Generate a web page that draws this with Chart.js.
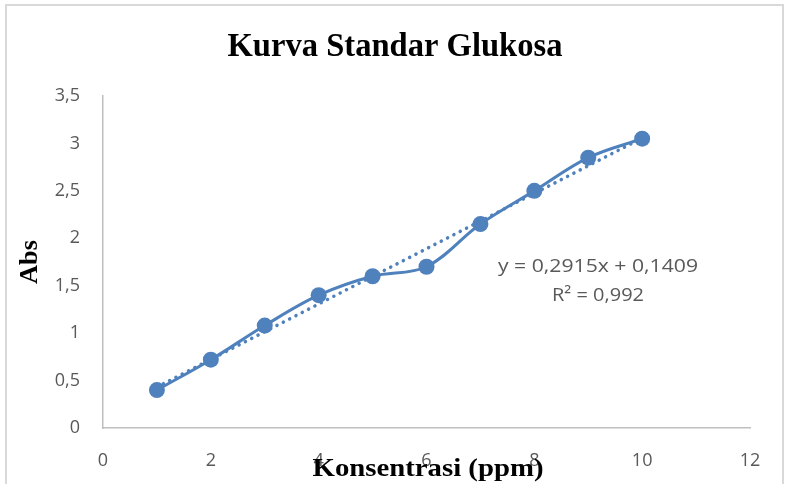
<!DOCTYPE html>
<html>
<head>
<meta charset="utf-8">
<script src="https://cdn.jsdelivr.net/npm/chart.js@4.4.0/dist/chart.umd.min.js"></script>
<style>
  html, body { margin: 0; padding: 0; background: #fff; }
  #wrap { width: 785px; height: 484px; }
</style>
</head>
<body>
<div id="wrap"><canvas id="kurva" width="785" height="484"></canvas></div>
<script>
// Konsentrasi glukosa (ppm) dan absorbansi
const konsentrasi = [1, 2, 3, 4, 5, 6, 7, 8, 9, 10];
const absorbansi = [0.40, 0.72, 1.08, 1.40, 1.60, 1.70, 2.15, 2.50, 2.85, 3.05];

// Regresi linear seperti pada label persamaan
const slope = 0.2915;
const intercept = 0.1409;
const rSquared = 0.992;
const trendX = [1, 10];

const xTicks = [0, 2, 4, 6, 8, 10, 12];
const yTicks = [0, 0.5, 1, 1.5, 2, 2.5, 3, 3.5];

const biru = '#4f81bd';
const koma = v => String(v).replace('.', ',');

// Teks dengan lebar tertentu (dipadatkan secara horizontal)
function fitText(ctx, text, cx, cy, width, font, rot, color) {
    ctx.save();
    ctx.font = font;
    ctx.fillStyle = color || '#000';
    ctx.textAlign = 'center';
    ctx.textBaseline = 'alphabetic';
    const w = ctx.measureText(text).width;
    ctx.translate(cx, cy);
    if (rot) ctx.rotate(rot);
    ctx.scale(width / w, 1);
    ctx.fillText(text, 0, 0);
    ctx.restore();
}

const dekorasi = {
    id: 'dekorasi',
    beforeDraw(chart) {
        const ctx = chart.ctx;
        ctx.save();
        ctx.fillStyle = '#fff';
        ctx.fillRect(0, 0, chart.width, chart.height);
        ctx.strokeStyle = '#d9d9d9';
        ctx.lineWidth = 2;
        ctx.beginPath();
        ctx.moveTo(6, 484);
        ctx.lineTo(6, 5);
        ctx.lineTo(783, 5);
        ctx.lineTo(783, 484);
        ctx.stroke();
        ctx.restore();
    },
    afterDraw(chart) {
        const ctx = chart.ctx;
        fitText(ctx, 'Kurva Standar Glukosa', 395, 56, 335, 'bold 33px "Liberation Serif"');
        fitText(ctx, 'Abs', 37, 262, 44, 'bold 26px "Liberation Serif"', -Math.PI / 2);
        fitText(ctx, 'Konsentrasi (ppm)', 428, 476, 231, 'bold 25px "Liberation Serif"');

        const eq = 'y = ' + koma(slope) + 'x + ' + koma(intercept);
        fitText(ctx, eq, 598, 272, 200, '19px "Open Sans"', 0, '#595959');
        fitText(ctx, 'R² = ' + koma(rSquared), 598, 301, 92, '19px "Open Sans"', 0, '#595959');
    }
};

new Chart(document.getElementById('kurva'), {
    type: 'line',
    data: {
        datasets: [
            {
                label: 'Trend',
                data: trendX.map(x => ({ x: x, y: slope * x + intercept })),
                borderColor: biru,
                borderWidth: 3.5,
                borderDash: [0.1, 7],
                borderCapStyle: 'round',
                pointRadius: 0,
                fill: false,
                order: 0
            },
            {
                label: 'Abs',
                data: konsentrasi.map((x, i) => ({ x: x, y: absorbansi[i] })),
                borderColor: biru,
                backgroundColor: biru,
                borderWidth: 3,
                tension: 0.35,
                pointRadius: 8,
                pointBorderWidth: 0,
                pointBackgroundColor: biru,
                fill: false,
                order: 1
            }
        ]
    },
    options: {
        responsive: false,
        animation: false,
        layout: { padding: { left: 0, right: 35, top: 96, bottom: 0 } },
        plugins: {
            legend: { display: false },
            title: { display: false },
            tooltip: { enabled: false }
        },
        scales: {
            x: {
                type: 'linear',
                min: 0,
                max: 12,
                afterBuildTicks: s => { s.ticks = xTicks.map(v => ({ value: v })); },
                afterFit: s => { s.height = 56; },
                grid: { display: false, drawTicks: false },
                border: { color: '#bfbfbf', width: 1.5 },
                ticks: {
                    padding: 22,
                    color: '#595959',
                    font: { family: 'Open Sans', size: 18 },
                    maxRotation: 0,
                    callback: v => koma(v)
                }
            },
            y: {
                min: 0,
                max: 3.5,
                afterBuildTicks: s => { s.ticks = yTicks.map(v => ({ value: v })); },
                afterFit: s => { s.width = 103; },
                grid: { display: false, drawTicks: false },
                border: { color: '#bfbfbf', width: 1.5 },
                ticks: {
                    padding: 23,
                    color: '#595959',
                    font: { family: 'Open Sans', size: 18 },
                    callback: v => koma(v)
                }
            }
        }
    },
    plugins: [dekorasi]
});
</script>
</body>
</html>
